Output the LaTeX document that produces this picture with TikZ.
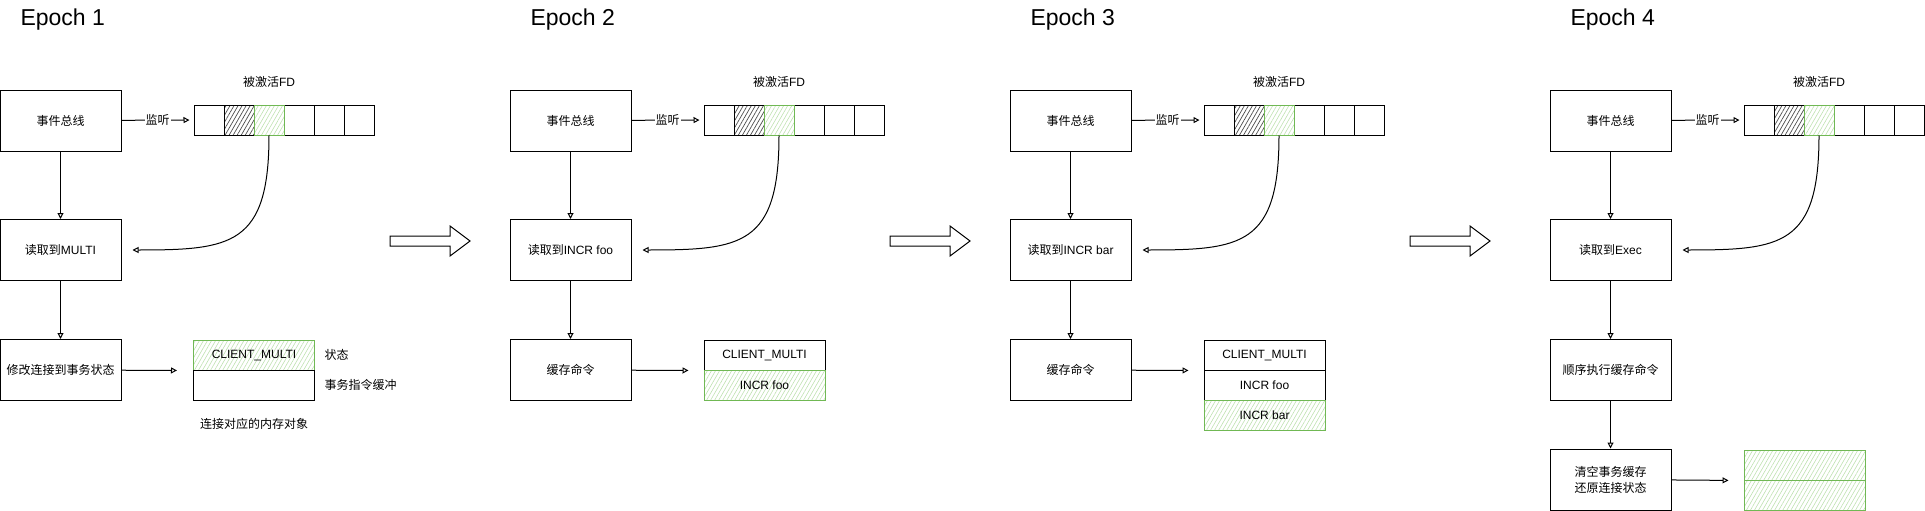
\documentclass[tikz,border=0pt]{standalone}
\usepackage{fontspec}
\setmainfont{Liberation Sans}
\newfontfamily\cjk{Noto Sans CJK SC}
\usetikzlibrary{arrows.meta,patterns.meta,positioning}

\definecolor{fdgreen}{RGB}{112,184,84}
\definecolor{hatchgreen}{RGB}{190,225,176}

\tikzset{
  box/.style={draw, line width=1pt, minimum width=121pt, minimum height=61pt, inner sep=2pt, align=center, font=\fontsize{12}{16}\selectfont},
  cell/.style={draw, line width=1pt, minimum width=30pt, minimum height=30pt, inner sep=0pt},
  memcell/.style={draw, line width=1pt, minimum width=121pt, minimum height=30pt, inner sep=0pt, font=\fontsize{12}{14}\selectfont},
  used/.style={pattern={Lines[angle=60,distance=3.5pt,line width=0.7pt]}, pattern color=black!70},
  active/.style={draw=fdgreen, pattern={Lines[angle=60,distance=3.5pt,line width=0.6pt]}, pattern color=hatchgreen},
  flow/.style={line width=1pt, -{Triangle[open,length=6pt,width=6pt]}},
  note/.style={font=\fontsize{12}{14}\selectfont},
  title/.style={font=\fontsize{23}{26}\selectfont, anchor=west},
}

\begin{document}
\begin{tikzpicture}[x=1pt,y=-1pt]
\useasboundingbox (0,0) rectangle (1925,511);

% parts every epoch has
\foreach \e/\dx/\cmd in {1/0/MULTI,2/510/INCR foo,3/1010/INCR bar,4/1550/Exec}{
  \begin{scope}[xshift=\dx pt]
    \node[title] (title\e) at (17,20) {Epoch \e};
    \node[box] (bus\e) at (60.5,120.5) {\cjk 事件总线};
    \node[box] (read\e) at (60.5,250) {{\cjk 读取到}\cmd};
    \foreach \c/\s in {1/{},2/used,4/{},5/{},6/{},3/active}
      \node[cell,\s] (fd\e-\c) at (179+30*\c,120) {};
    \node[note] (fdname\e) at (269,82) {{\cjk 被激活}FD};
    \draw[flow, shorten >=4pt] (bus\e) -- node[note, fill=white, inner sep=1pt] {\cjk 监听} (fd\e-1);
    \draw[flow] (bus\e) -- (read\e);
    \draw[flow, shorten >=11pt] (fd\e-3.south) .. controls +(0,110) and +(110,0) .. (read\e.east);
  \end{scope}
}

% epoch 1
\node[box] (mod1) at (60.5,370) {\cjk 修改连接到事务状态};
\draw[flow] (read1) -- (mod1);
\node[memcell, active] (state1) at (254,355) {CLIENT\_MULTI};
\node[memcell] (queue1) at (254,385) {};
\node[note, right=6pt of state1] (statename1) {\cjk 状态};
\node[note, right=6pt of queue1] (queuename1) {\cjk 事务指令缓冲};
\node[note] (memname1) at (254,424) {\cjk 连接对应的内存对象};
\draw[flow, shorten >=16pt] (mod1) -- (state1.south west);

% epoch 2
\node[box] (mod2) at (570.5,370) {\cjk 缓存命令};
\draw[flow] (read2) -- (mod2);
\node[memcell] (state2) at (764.5,355) {CLIENT\_MULTI};
\node[memcell, active] (foo2) at (764.5,385) {INCR foo};
\draw[flow, shorten >=15pt] (mod2) -- (state2.south west);

% epoch 3
\node[box] (mod3) at (1070.5,370) {\cjk 缓存命令};
\draw[flow] (read3) -- (mod3);
\node[memcell] (state3) at (1264.5,355) {CLIENT\_MULTI};
\node[memcell] (foo3) at (1264.5,385) {INCR foo};
\node[memcell, active] (bar3) at (1264.5,415) {INCR bar};
\draw[flow, shorten >=15pt] (mod3) -- (state3.south west);

% epoch 4
\node[box] (exec4) at (1610.5,370) {\cjk 顺序执行缓存命令};
\node[box] (reset4) at (1610.5,479.5) {\cjk 清空事务缓存\\\cjk 还原连接状态};
\draw[flow] (read4) -- (exec4);
\draw[flow] (exec4) -- (reset4);
\node[memcell, active] (state4) at (1804.5,465) {};
\node[memcell, active] (queue4) at (1804.5,495) {};
\draw[flow, shorten >=15pt] (reset4) -- (state4.south west);

% big arrows between epochs
\foreach \x in {390,890,1410}
  \draw[line width=1pt] (\x,236) -- ++(60,0) -- ++(0,-10) -- ++(20,15) -- ++(-20,15) -- ++(0,-10) -- ++(-60,0) -- cycle;
\end{tikzpicture}
\end{document}
